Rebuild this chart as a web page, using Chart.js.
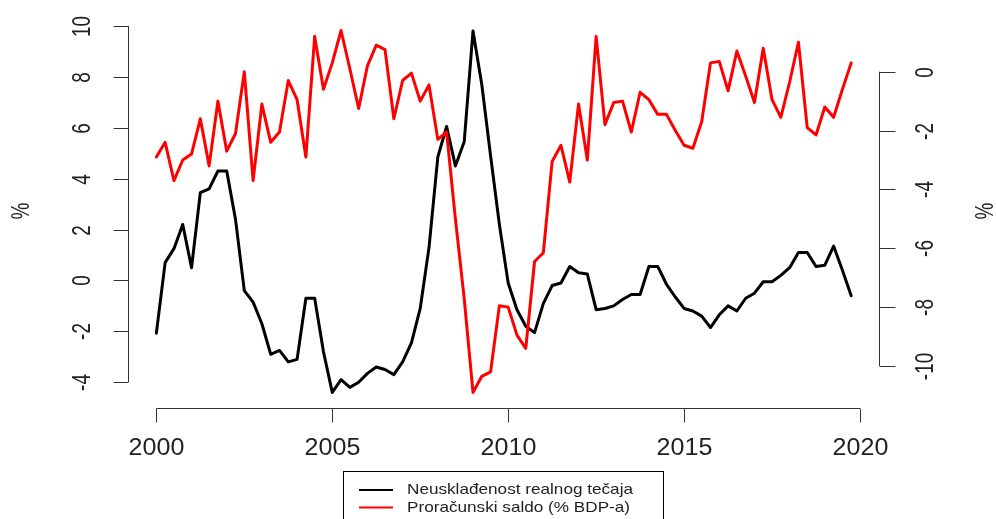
<!DOCTYPE html>
<html>
<head>
<meta charset="utf-8">
<script src="https://cdn.jsdelivr.net/npm/chart.js@4.4.1/dist/chart.umd.min.js"></script>
<style>
  html, body { margin: 0; padding: 0; background: #fff; overflow: hidden; }
  canvas { display: block; }
</style>
</head>
<body>
<canvas id="chart" width="996" height="519"></canvas>
<script>
// --- data (quarterly, 2000Q1 - 2019Q4) ---
const quarters = Array.from({ length: 80 }, (_, i) => 2000 + i * 0.25);

// Neusklađenost realnog tečaja (left axis, %)
const misalignment = [
  -2.07, 0.7, 1.25, 2.2, 0.5, 3.45, 3.6, 4.3, 4.3, 2.4,
  -0.4, -0.85, -1.7, -2.9, -2.75, -3.2, -3.1, -0.7, -0.7, -2.8,
  -4.4, -3.9, -4.2, -4.0, -3.65, -3.4, -3.5, -3.7, -3.2, -2.45,
  -1.1, 1.3, 4.85, 6.05, 4.5, 5.45, 9.8, 7.7, 4.9, 2.2,
  -0.1, -1.15, -1.8, -2.05, -0.9, -0.2, -0.1, 0.55, 0.3, 0.25,
  -1.15, -1.1, -1.0, -0.75, -0.55, -0.55, 0.55, 0.55, -0.15, -0.65,
  -1.1, -1.2, -1.4, -1.85, -1.35, -1.0, -1.2, -0.7, -0.5, -0.05,
  -0.05, 0.2, 0.5, 1.1, 1.1, 0.55, 0.6, 1.35, 0.4, -0.6
];

// Proračunski saldo (% BDP-a) (right axis)
const budgetBalance = [
  -2.9, -2.4, -3.7, -3.0, -2.8, -1.6, -3.2, -1.0, -2.7, -2.1,
  0.0, -3.7, -1.1, -2.4, -2.05, -0.3, -0.95, -2.9, 1.2, -0.6,
  0.3, 1.4, 0.1, -1.25, 0.2, 0.9, 0.75, -1.6, -0.3, -0.05,
  -1.0, -0.45, -2.3, -2.05, -5.0, -7.7, -10.9, -10.35, -10.2, -7.95,
  -8.0, -8.95, -9.4, -6.45, -6.15, -3.05, -2.5, -3.75, -1.1, -3.0,
  1.2, -1.8, -1.05, -1.0, -2.05, -0.7, -0.95, -1.45, -1.45, -2.0,
  -2.5, -2.6, -1.7, 0.3, 0.35, -0.65, 0.7, -0.15, -1.05, 0.8,
  -0.95, -1.55, -0.35, 1.0, -1.9, -2.15, -1.2, -1.55, -0.6, 0.3
];

const seriesLabels = ['Neusklađenost realnog tečaja', 'Proračunski saldo (% BDP-a)'];
const xTicks = [2000, 2005, 2010, 2015, 2020];
const leftTicks = [-4, -2, 0, 2, 4, 6, 8, 10];
const rightTicks = [-10, -8, -6, -4, -2, 0];
const axisTitle = '%';

// --- drawing helpers ---
const FONT = '"Liberation Sans", Arial, sans-serif';
const INK = '#222';

function drawText(ctx, s, x, y, size, sx, sy, rotated) {
  ctx.save();
  ctx.translate(x, y);
  if (rotated) ctx.rotate(-Math.PI / 2);
  ctx.scale(sx, sy);
  ctx.font = size + 'px ' + FONT;
  ctx.fillStyle = INK;
  ctx.textAlign = 'center';
  ctx.textBaseline = 'middle';
  ctx.fillText(s, 0, 0);
  ctx.restore();
}

function line(ctx, x1, y1, x2, y2) {
  ctx.beginPath();
  ctx.moveTo(x1, y1);
  ctx.lineTo(x2, y2);
  ctx.stroke();
}

// R-style axes, titles and legend
const rAxes = {
  id: 'rAxes',
  afterDraw(chart) {
    const { ctx, scales } = chart;
    const x = scales.x, yl = scales.yLeft, yr = scales.yRight;
    const area = chart.chartArea;
    ctx.save();
    ctx.strokeStyle = '#333';
    ctx.lineWidth = 1;

    // bottom axis
    const xb = Math.round(area.bottom) + 0.5;
    line(ctx, x.getPixelForValue(xTicks[0]), xb, x.getPixelForValue(xTicks[xTicks.length - 1]), xb);
    xTicks.forEach(t => {
      const px = Math.round(x.getPixelForValue(t)) + 0.5;
      line(ctx, px, xb, px, xb + 14);
      drawText(ctx, String(t), px, xb + 40, 23, 1.09, 1, false);
    });

    // left axis
    const xl = Math.round(area.left) + 0.5;
    line(ctx, xl, yl.getPixelForValue(leftTicks[0]), xl, yl.getPixelForValue(leftTicks[leftTicks.length - 1]));
    leftTicks.forEach(t => {
      const py = Math.round(yl.getPixelForValue(t)) + 0.5;
      line(ctx, xl - 15, py, xl, py);
      drawText(ctx, String(t), xl - 45, py, 21, 0.9, 1.2, true);
    });

    // right axis
    const xr = Math.round(area.right) + 0.5;
    line(ctx, xr, yr.getPixelForValue(rightTicks[0]), xr, yr.getPixelForValue(rightTicks[rightTicks.length - 1]));
    rightTicks.forEach(t => {
      const py = Math.round(yr.getPixelForValue(t)) + 0.5;
      line(ctx, xr, py, xr + 16, py);
      drawText(ctx, String(t), xr + 47, py, 21, 0.9, 1.2, true);
    });

    // axis titles
    drawText(ctx, axisTitle, 22, 211, 21, 0.9, 1.2, true);
    drawText(ctx, axisTitle, 986, 211, 21, 0.9, 1.2, true);

    // legend
    ctx.strokeStyle = '#000';
    ctx.strokeRect(343.5, 471.5, 320, 80);
    ctx.font = '15px ' + FONT;
    const sx = 226 / ctx.measureText(seriesLabels[0]).width;
    const colors = ['#000', '#ff0000'];
    [490, 507.5].forEach((ly, i) => {
      ctx.strokeStyle = colors[i];
      ctx.lineWidth = 2;
      line(ctx, 359, ly, 393, ly);
      ctx.save();
      ctx.translate(407, ly);
      ctx.scale(sx, 1);
      ctx.font = '15px ' + FONT;
      ctx.fillStyle = INK;
      ctx.textAlign = 'left';
      ctx.textBaseline = 'middle';
      ctx.fillText(seriesLabels[i], 0, 0);
      ctx.restore();
    });
    ctx.restore();
  }
};

new Chart(document.getElementById('chart'), {
  type: 'line',
  data: {
    datasets: [
      {
        label: seriesLabels[1],
        data: quarters.map((q, i) => ({ x: q, y: budgetBalance[i] })),
        yAxisID: 'yRight',
        borderColor: '#ff0000',
        borderWidth: 3,
        order: 1
      },
      {
        label: seriesLabels[0],
        data: quarters.map((q, i) => ({ x: q, y: misalignment[i] })),
        yAxisID: 'yLeft',
        borderColor: '#000000',
        borderWidth: 3,
        order: 2
      }
    ]
  },
  options: {
    responsive: false,
    animation: false,
    events: [],
    layout: { padding: { left: 127.5, right: 117, top: 16.3, bottom: 111.3 } },
    elements: {
      line: { tension: 0, fill: false, borderJoinStyle: 'round', borderCapStyle: 'round' },
      point: { radius: 0 }
    },
    plugins: { legend: { display: false }, tooltip: { enabled: false } },
    scales: {
      x: { type: 'linear', display: false, min: 1999.18, max: 2020.54 },
      yLeft: { type: 'linear', position: 'left', display: false, min: -5.0, max: 10.38 },
      yRight: { type: 'linear', position: 'right', display: false, min: -11.417, max: 1.882 }
    }
  },
  plugins: [rAxes]
});
</script>
</body>
</html>
